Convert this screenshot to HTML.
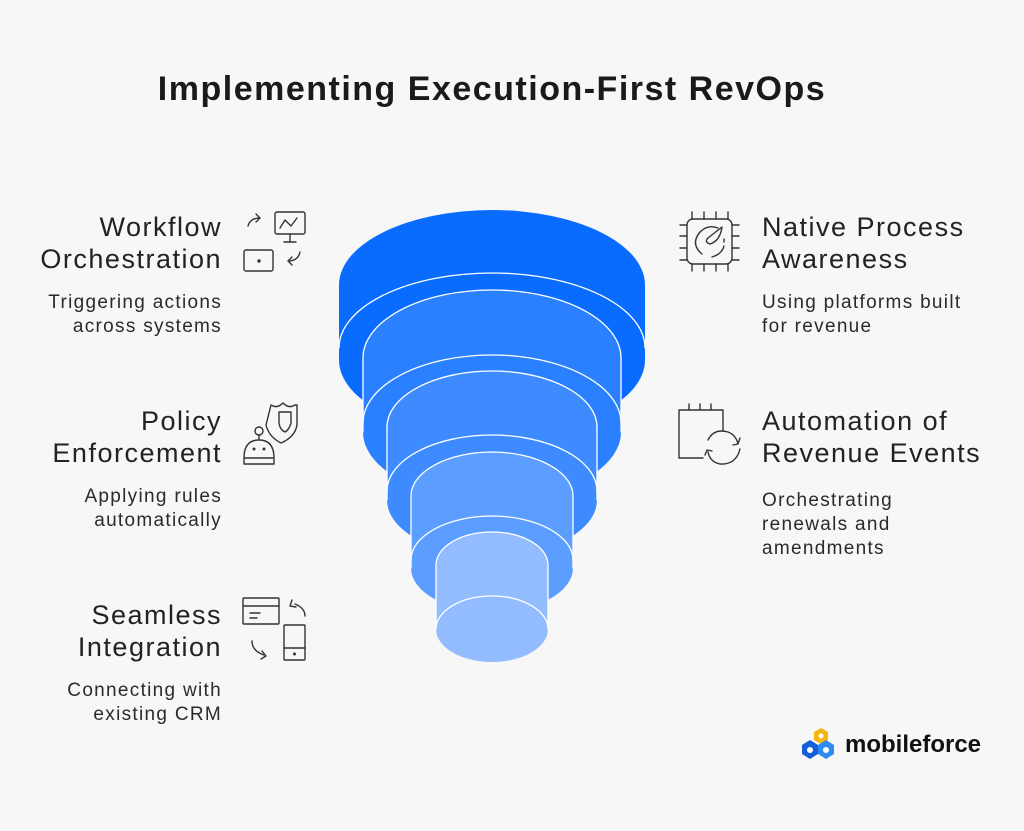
<!DOCTYPE html>
<html><head><style>
body{margin:0;width:1024px;height:831px;background:#f7f7f7;overflow:hidden;font-family:"Liberation Sans",sans-serif;color:#222;}
.t{position:absolute;white-space:nowrap;}
.h{font-size:27px;line-height:32px;letter-spacing:1.5px;}
.d{font-size:19px;line-height:24px;color:#2a2a2a;letter-spacing:1.3px;}
.r{text-align:right;}
</style></head><body>
<div class="t" style="left:0;width:984px;top:70px;text-align:center;font-size:34px;font-weight:bold;color:#1a1a1a;letter-spacing:1.5px;">Implementing Execution-First RevOps</div>

<div class="t h r" style="right:802px;top:211px;">Workflow<br>Orchestration</div>
<div class="t d r" style="right:802px;top:291px;">Triggering actions<br>across systems</div>
<div class="t h r" style="right:802px;top:405px;">Policy<br>Enforcement</div>
<div class="t d r" style="right:802px;top:485px;">Applying rules<br>automatically</div>
<div class="t h r" style="right:802px;top:599px;">Seamless<br>Integration</div>
<div class="t d r" style="right:802px;top:679px;">Connecting with<br>existing CRM</div>

<div class="t h" style="left:762px;top:211px;">Native Process<br>Awareness</div>
<div class="t d" style="left:762px;top:291px;">Using platforms built<br>for revenue</div>
<div class="t h" style="left:762px;top:405px;">Automation of<br>Revenue Events</div>
<div class="t d" style="left:762px;top:489px;">Orchestrating<br>renewals and<br>amendments</div>

<svg width="1024" height="831" style="position:absolute;left:0;top:0" fill="none" stroke-linecap="round" stroke-linejoin="round">
<g stroke="#fff" stroke-width="1.3">
<path d="M339,285 A153,75 0 0 1 645,285 L645,360 A153,75 0 0 1 339,360 Z" fill="#0a6cff" stroke="none"/>
<path d="M339,348 A153,75 0 0 1 645,348"/>
<path d="M363,358 A129,68 0 0 1 621,358 L621,432 A129,68 0 0 1 363,432 Z" fill="#2b80ff" stroke="none"/>
<path d="M363,432 L363,358 A129,68 0 0 1 621,358 L621,432"/>
<path d="M363,423 A129,68 0 0 1 621,423"/>
<path d="M387,427 A105,56 0 0 1 597,427 L597,500 A105,56 0 0 1 387,500 Z" fill="#3d8bff" stroke="none"/>
<path d="M387,500 L387,427 A105,56 0 0 1 597,427 L597,500"/>
<path d="M387,491 A105,56 0 0 1 597,491"/>
<path d="M411,496 A81,44 0 0 1 573,496 L573,568 A81,44 0 0 1 411,568 Z" fill="#5c9eff" stroke="none"/>
<path d="M411,568 L411,496 A81,44 0 0 1 573,496 L573,568"/>
<path d="M411,560 A81,44 0 0 1 573,560"/>
<path d="M436,565 A56,33 0 0 1 548,565 L548,629 A56,33 0 0 1 436,629 Z" fill="#93bcff" stroke="none"/>
<path d="M436,629 L436,565 A56,33 0 0 1 548,565 L548,629"/>
<path d="M436,629 A56,33 0 0 1 548,629"/>
</g>
<g stroke="#333" stroke-width="1.4">
<rect x="275" y="212" width="30" height="22" rx="2"/><path d="M280,228 l5,-8 l6,6 l6,-8 M290,234 v8 M284,242 h12"/>
<path d="M248,226 q2,-8 12,-8 M256,214 l4,4 l-4,4"/>
<rect x="244" y="250" width="29" height="21" rx="2"/><circle cx="259" cy="261" r="1" fill="#333"/>
<path d="M300,252 q-2,9 -12,9 M292,257 l-4,4 l4,4"/>
<path d="M271,405 q6,4 12,-2 q6,6 12,2 l2,0 v20 q-2,12 -16,18 q-12,-6 -15,-18 z"/>
<path d="M279,412 h12 v11 q-2,7 -6,9 q-5,-2 -6,-9 z"/>
<circle cx="259" cy="431" r="4"/><path d="M259,435 v5 M244,458 q0,-18 15,-18 q15,0 15,18 z M244,458 v6 h30 v-6"/>
<circle cx="254" cy="449" r="0.8" fill="#333"/><circle cx="264" cy="449" r="0.8" fill="#333"/>
<rect x="243" y="598" width="36" height="26" rx="1"/><path d="M243,606 h36 M250,613 h10 M250,618 h7"/>
<path d="M305,616 q0,-8 -10,-12 M292,600 l-2,6 l6,1"/>
<path d="M252,641 q0,10 12,14 M262,651 l4,5 l-5,3"/>
<rect x="284" y="625" width="21" height="35" rx="1"/><path d="M284,648 h21"/><circle cx="294.5" cy="654" r="0.8" fill="#333"/>
<rect x="687" y="219" width="45" height="45" rx="6"/>
<path d="M692,212 v7 M704,212 v7 M716,212 v7 M728,212 v7 M692,264 v7 M704,264 v7 M716,264 v7 M728,264 v7 M680,225 h7 M680,236 h7 M680,248 h7 M680,260 h7 M732,225 h7 M732,236 h7 M732,248 h7 M732,260 h7"/>
<path d="M702,254 q-12,-10 -2,-22 q8,-8 18,-4 M724,246 q-2,8 -12,11"/>
<path d="M710,244 q-6,-2 -2,-6 l14,-11 q-2,14 -12,17 z"/><path d="M724,239 v3"/>
<path d="M723,431 v-21 h-44 v48 h24 M689,410 v-6 M700,410 v-6 M711,410 v-6"/>
<path d="M708,440 q6,-12 20,-8 q8,3 10,12 M733,445 l5,-1 l2,-6"/>
<path d="M740,449 q-4,16 -20,15 q-10,-2 -12,-12 M712,451 l-5,-1 l-2,5"/>
</g>
<g>
<path d="M814,732 l7,-4 l7,4 v8 l-7,4 l-7,-4 z" fill="#f5b50f"/>
<path d="M802,745 l8,-5 l8,5 v9 l-8,5 l-8,-5 z" fill="#1560d6"/>
<path d="M818,745 l8,-5 l8,5 v9 l-8,5 l-8,-5 z" fill="#2f8bf0"/>
<circle cx="821" cy="736" r="2.5" fill="#fff"/><circle cx="810" cy="750" r="3" fill="#fff"/><circle cx="826" cy="750" r="3" fill="#fff"/>
</g>
</svg>
<div class="t" style="left:845px;top:731px;font-size:24px;font-weight:bold;color:#111;">mobileforce</div>
</body></html>
